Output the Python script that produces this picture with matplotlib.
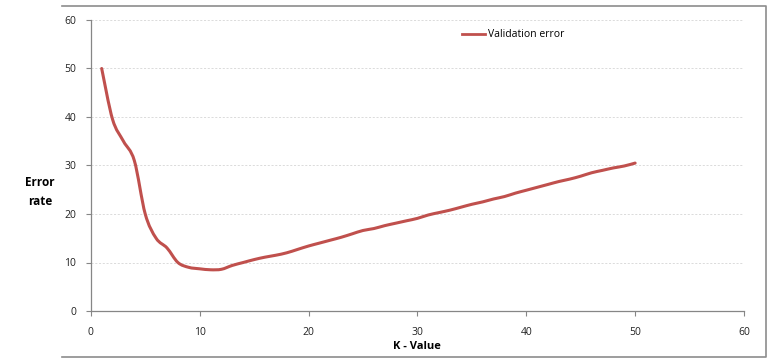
import matplotlib
matplotlib.use("Agg")
import matplotlib.pyplot as plt
from matplotlib.lines import Line2D
from matplotlib.path import Path
from matplotlib.patches import PathPatch

k_values = list(range(1, 51))
validation_error = [50, 39.5, 35, 31, 20, 15, 13, 10, 9, 8.7,
                    8.5, 8.6, 9.4, 10, 10.6, 11.1, 11.5, 12, 12.7, 13.4,
                    14, 14.6, 15.2, 15.9, 16.6, 17, 17.6, 18.1, 18.6, 19.1,
                    19.8, 20.3, 20.8, 21.4, 22, 22.5, 23.1, 23.6, 24.3, 24.9,
                    25.5, 26.1, 26.7, 27.2, 27.8, 28.5, 29, 29.5, 29.9, 30.5]
x_ticks = [0, 10, 20, 30, 40, 50, 60]
y_ticks = [0, 10, 20, 30, 40, 50, 60]

plt.rcParams['font.family'] = ['Open Sans', 'DejaVu Sans']

fig = plt.figure(figsize=(7.78, 3.64), dpi=100)
ax = fig.add_axes([90.8 / 778, 1 - 311 / 364, (744 - 90.8) / 778, (311 - 20) / 364])

line_color = '#C0504D'
line_width = 2.2

# Smoothed line (Excel-style Bezier through every data point)
pts = list(zip(k_values, validation_error))
verts = [pts[0]]
codes = [Path.MOVETO]
n = len(pts)
for i in range(n - 1):
    p0 = pts[i - 1] if i > 0 else pts[i]
    p1 = pts[i]
    p2 = pts[i + 1]
    p3 = pts[i + 2] if i + 2 < n else pts[i + 1]
    c1 = (p1[0] + (p2[0] - p0[0]) / 6, p1[1] + (p2[1] - p0[1]) / 6)
    c2 = (p2[0] - (p3[0] - p1[0]) / 6, p2[1] - (p3[1] - p1[1]) / 6)
    verts += [c1, c2, p2]
    codes += [Path.CURVE4] * 3
ax.add_patch(PathPatch(Path(verts, codes), facecolor='none', edgecolor=line_color,
                       lw=line_width, capstyle='round', joinstyle='round'))

ax.set_xlim(0, 60)
ax.set_ylim(0, 60)
ax.set_xticks(x_ticks)
ax.set_yticks(y_ticks)
ax.tick_params(axis='both', direction='out', length=3.5, width=0.8,
               color='#868686', labelsize=7.5, labelcolor='#222222')
ax.tick_params(axis='x', pad=8)
ax.tick_params(axis='y', pad=7)
for s in ['top', 'right']:
    ax.spines[s].set_visible(False)
for s in ['left', 'bottom']:
    ax.spines[s].set_color('#868686')
    ax.spines[s].set_linewidth(0.9)
ax.yaxis.grid(True, linestyle=(0, (2.5, 2)), color='#D6D6D6', lw=0.6)
ax.set_axisbelow(True)

ax.set_xlabel('K - Value', fontsize=8, fontweight='bold', labelpad=2)
fig.text(40 / 778, 1 - 192 / 364, 'Error\nrate', fontsize=8.5, fontweight='bold',
         ha='center', va='center', linespacing=1.6)

handle = Line2D([], [], color=line_color, lw=2.0)
ax.legend([handle], ['Validation error'], loc='upper left',
          bbox_to_anchor=((458 - 90.8) / (744 - 90.8), 1 - 5 / 291),
          frameon=False, fontsize=7.5, handlelength=2.2, handletextpad=0.3,
          borderaxespad=0)

# outer chart frame (top, right, bottom)
frame_x = [62 / 778, 766 / 778, 766 / 778, 62 / 778]
frame_y = [1 - 6 / 364, 1 - 6 / 364, 1 - 356.5 / 364, 1 - 356.5 / 364]
fig.add_artist(Line2D(frame_x, frame_y, color='#8C8C8C', lw=1.2, transform=fig.transFigure))

fig.savefig('out.png', dpi=100)
